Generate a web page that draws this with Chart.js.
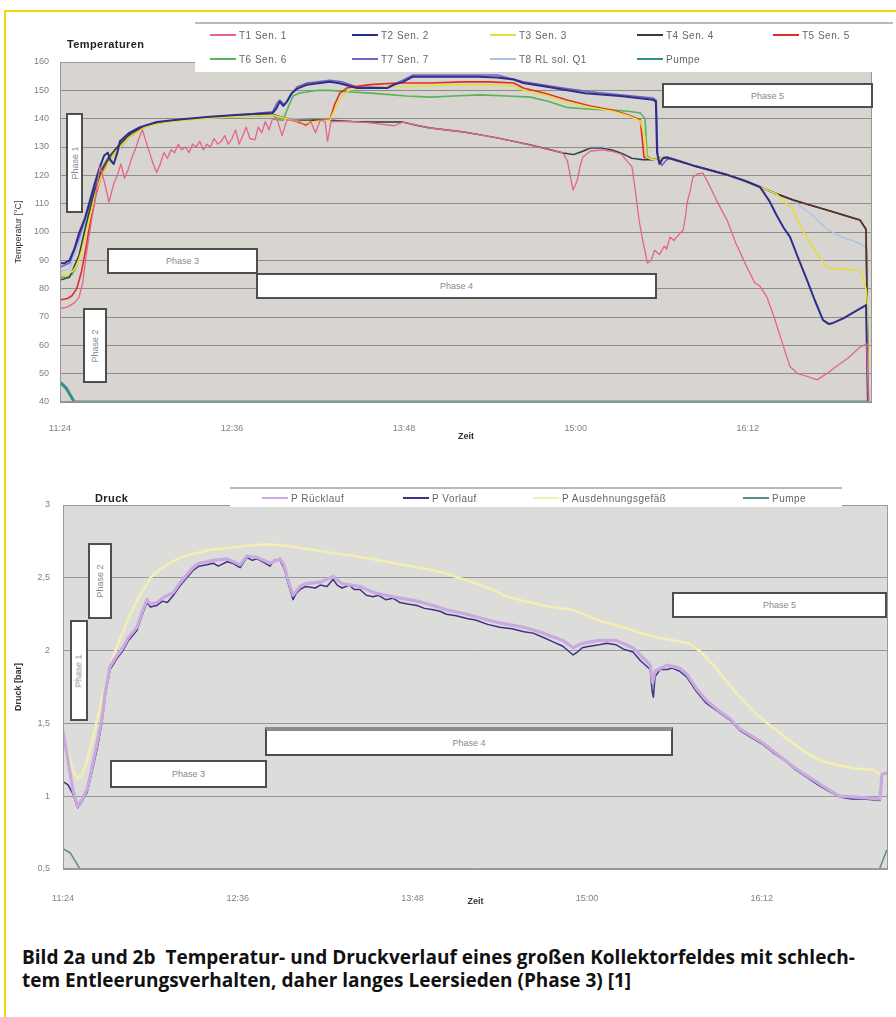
<!DOCTYPE html>
<html lang="de">
<head>
<meta charset="utf-8">
<title>Temperatur- und Druckverlauf</title>
<script src="https://cdn.jsdelivr.net/npm/chart.js@4.4.1/dist/chart.umd.min.js"></script>
<style>
    html, body { margin: 0; padding: 0; background: #fff; }
    body { width: 896px; height: 1017px; position: relative; overflow: hidden; font-family: "Liberation Sans", Arial, sans-serif; }
    canvas { position: absolute; left: 0; }
    #temp-chart { top: 0; }
    #druck-chart { top: 460px; }
    .frame-top { position: absolute; left: 4px; top: 10px; width: 892px; height: 2px; background: #f3d700; }
    .frame-left { position: absolute; left: 4px; top: 10px; width: 2px; height: 1007px; background: #f3d700; }
    .chart-title { position: absolute; font-weight: bold; font-size: 11px; color: #222; letter-spacing: 0.4px; }
    .legend { position: absolute; background: #fff; border-top: 2px solid #b8b8b8; box-sizing: border-box; }
    .legend-item { position: absolute; height: 12px; margin-top: -6px; display: flex; align-items: center; font-size: 10px; color: #666; white-space: nowrap; letter-spacing: 0.5px; }
    .legend-item i { display: inline-block; width: 26px; margin-right: 3px; }
    .phase { position: absolute; background: #fff; border: 2px solid #4e4e4e; box-sizing: border-box; display: flex; align-items: center; justify-content: center; font-size: 9px; color: #8a8a8a; }
    .phase span { white-space: nowrap; }
    .phase.vertical span { transform: rotate(-90deg); }
    .caption { position: absolute; left: 22px; top: 946px; line-height: 23px; font-size: 15px; font-weight: bold; color: #111; font-family: "Open Sans", sans-serif; }
    .caption div { white-space: nowrap; }
    .caption span { display: inline-block; }
</style>
</head>
<body>
<div class="frame-top"></div>
<div class="frame-left"></div>

<canvas id="temp-chart" width="896" height="445"></canvas>
<canvas id="druck-chart" width="896" height="450"></canvas>

<div class="chart-title" style="left:67px; top:38px;">Temperaturen</div>
<div class="chart-title" style="left:95px; top:492px;">Druck</div>

<div class="legend" id="temp-legend" style="left:195px; top:22px; width:698px; height:50px;"></div>
<div class="legend" id="druck-legend" style="left:230px; top:487px; width:612px; height:20px;"></div>

<div class="phase vertical" style="left:66px; top:113px; width:17px; height:100px;"><span>Phase 1</span></div>
<div class="phase vertical" style="left:83px; top:308px; width:24px; height:75px;"><span>Phase 2</span></div>
<div class="phase" style="left:107px; top:248px; width:151px; height:26px;"><span>Phase 3</span></div>
<div class="phase" style="left:256px; top:273px; width:401px; height:26px;"><span>Phase 4</span></div>
<div class="phase" style="left:662px; top:83px; width:211px; height:25px;"><span>Phase 5</span></div>

<div class="phase vertical" style="left:88px; top:543px; width:24px; height:76px;"><span>Phase 2</span></div>
<div class="phase vertical" style="left:70px; top:620px; width:18px; height:101px;"><span>Phase 1</span></div>
<div class="phase" style="left:110px; top:760px; width:157px; height:28px;"><span>Phase 3</span></div>
<div class="phase" style="left:265px; top:727px; width:408px; height:29px; border-top-width:4px; border-top-color:#8c8c8c;"><span>Phase 4</span></div>
<div class="phase" style="left:672px; top:592px; width:215px; height:26px;"><span>Phase 5</span></div>

<div class="caption">
    <div><span id="cap1">Bild 2a und 2b&nbsp; Temperatur- und Druckverlauf eines großen Kollektorfeldes mit schlech-</span></div>
    <div><span>tem Entleerungsverhalten, daher langes Leersieden (Phase 3) [1]</span></div>
</div>

<script>
// time axis: minutes after 11:24
const timeTicks = [0, 72, 144, 216, 288];
const timeLabels = ["11:24", "12:36", "13:48", "15:00", "16:12"];
const tempTickLabels = ["40", "50", "60", "70", "80", "90", "100", "110", "120", "130", "140", "150", "160"];
const druckTickLabels = ["0,5", "1", "1,5", "2", "2,5", "3"];

const tempLabels = ["T1 Sen. 1", "T2 Sen. 2", "T3 Sen. 3", "T4 Sen. 4", "T5 Sen. 5",
    "T6 Sen. 6", "T7 Sen. 7", "T8 RL sol. Q1", "Pumpe"];
const druckLabels = ["P Rücklauf", "P Vorlauf", "P Ausdehnungsgefäß", "Pumpe"];

// [minute, °C]
const t1 = [[0,73],[3,73.5],[6,75],[8,77],[9.5,82],[11,92],[13,103],[15,113],[16.7,123],[18.5,118],[20.5,110.6],
    [22.5,117],[24,120],[25.5,124],[27,119],[28.5,122],[30,126],[31.5,129],[33,133],[34.5,136],[36,132],[37.5,128],
    [39,124],[40.5,121],[42,124],[43.5,128],[45,126],[46.5,129],[48,128],[49.5,131],[51,129],[52.5,130],[54,128],
    [55.5,131],[57,130],[58.5,132],[60,129],[61.5,131],[63,130],[64.5,133],[66,131],[67.5,132],[69,134],[70.5,131],
    [72,133],[73.5,136],[75,131],[76.5,134],[78,137],[79.5,133],[81.6,132.5],[83,137],[84.5,135],[86,139],[87.5,136],
    [89,140],[91,139.5],[93,134],[95,139.5],[99,139.5],[103,137.5],[105,139],[107,135],[109,139.5],[111,139],[112,132],
    [113.5,139],[122,139],[130,138.5],[140,137.5],[143.6,138.8],[155,136.7],[169,135.3],[183,133.2],[197,130.7],
    [205,129],[210.6,127.9],[212.5,125],[214.8,114.8],[216.5,118],[218,124],[219,126.5],[222,128.5],[227,129],
    [231,128.5],[235,127.5],[239.5,123],[241,114],[242.5,104],[244,97],[246,89],[247.5,90],[249,93.6],[251,92],
    [253,95],[254,94],[255.4,98.2],[257,97],[259,99],[260.9,100.7],[262,106],[262.5,110],[264,115],[265,119.4],
    [267,120.5],[269.2,120.8],[272.2,116],[275,111],[279.3,104.2],[283,96],[287.6,87.6],[291,82],[293,81],[296,77],
    [299,70],[302,62],[305.7,52.4],[309,50],[313,49],[317,47.8],[321,50],[325,52.5],[330,55.5],[335,59.4],
    [337.8,60.5],[338.5,40]];
const t2 = [[0,89],[2,89],[4,90],[6,94],[8,99.6],[10.5,105],[12.6,111.3],[14.5,117],[16.7,123],[18.5,127],[20,128],
    [21,125.5],[22.5,124],[24,128],[25.1,132],[29,135],[33.5,137],[40.6,138.8],[50,139.7],[61.5,140.6],[75,141.4],
    [89,142],[90.5,143.5],[92,146],[93.5,144.5],[95,146],[97,149],[99.2,150.5],[103.4,152],[108,152.5],[113,153],
    [117,152.5],[124.4,150.8],[130,150.8],[137,150.8],[140,152],[143.6,153],[147.8,154.8],[160,154.8],[175,154.8],
    [183,154.5],[190,153.8],[194,152.6],[202,151.5],[210.6,150.3],[220,149],[234.5,148],[248.3,146.7],[249.5,146],
    [250,128],[251,124],[252.5,126],[254.2,126.3],[258,125.3],[265,123.5],[272,121.9],[280,120],[287,118],
    [293.1,115.9],[297,111],[300,106],[303,101.5],[305.7,98.2],[309,91],[312.8,83],[316,76],[319.5,68.9],[322,67.5],
    [323.7,67.9],[328,69.5],[333,72],[337.5,74.2],[338.3,40]];
const t3 = [[0,85],[3,85],[5,86],[7,88],[9,93],[11,100],[13,107],[15,114],[17,119],[20,124],[23,128],[29,133.5],
    [36,137.3],[45,138.8],[61.5,140.2],[75,140.8],[89,141.3],[95,140],[103,138.5],[110,139.3],[113,139.5],[115.5,144],
    [118,148],[121,150],[126,150.8],[135,151.2],[150,151.5],[165,152],[180,152],[190,151.5],[194,150],[203,148.4],
    [212,146],[222,144],[231.5,142.6],[238,141],[243,139.2],[245,133],[245.5,126.5],[248,125.5],[254,126.5],
    [265,123.5],[272,121.9],[280,120],[293,115.9],[300,113.5],[306.9,107.8],[310,102],[315.3,94.7],[318,91],
    [321.1,87.6],[325,87],[330,86.8],[335,86.6],[337.5,80],[338,76],[338.5,40]];
const t4 = [[0,83],[4,84],[8,92],[11,103],[14,113],[17,121],[21,127],[25,131],[30,135],[35,137],[41,138.6],
    [50,139.5],[61.5,140.4],[75,141],[89,141.5],[95,140],[99,139.5],[106,139.5],[113,139.5],[122,139],[130,138.8],
    [143.6,138.8],[150,137.5],[155,136.7],[162,136],[169,135.3],[176,134.3],[183,133.2],[190,132],[197,130.7],
    [204,129.3],[210.6,127.9],[215,127.3],[219,128.5],[222,129.6],[227,129.6],[231,129],[235,127.8],[239.5,126],
    [244,125.5],[248,125.5],[254,126.5],[258,125.3],[265,123.5],[272,121.9],[280,120],[287,118],[293,115.9],
    [300,113.5],[307,111.3],[314,109.5],[321,107.8],[328,106],[335,104.2],[337.5,101],[338.5,40]];
const t5 = [[0,76],[3,76.5],[5,77.5],[7,80],[9,86],[11,95],[13,105],[15,113],[17,119],[19.5,123.5],[23,128],
    [29,133.5],[36,137.5],[45,139],[61.5,140.4],[75,141],[89,141.5],[95,140],[99,139],[103,137.8],[106,139.5],
    [110,139.5],[113,139.5],[115,145],[117.2,149],[120,150.8],[125,151.5],[130,152],[141,152.6],[155,152.6],[169,153],
    [180,153],[190,152.6],[194,150.8],[203,149],[212.3,146.6],[222,144.5],[231.5,143],[238,141.3],[243,139.5],
    [244,131],[244.5,126.5],[248,125.5],[254,126.5],[258,125.3],[265,123.5],[272,121.9],[280,120],[287,118],
    [293,115.9],[300,113.5],[307,111.3],[314,109.5],[321,107.8],[328,106],[335,104.2],[337.5,101],[338.5,40]];
const t6 = [[0,84],[3,84],[5,85],[7,88],[9,94],[11,102],[13,109],[15,115],[17,120],[20,125],[23,128.5],[29,133.8],
    [36,137.3],[45,139],[61.5,140.3],[75,140.8],[89,141.2],[92,139.5],[93.4,139.5],[95.5,144],[97.6,148],[100,149],
    [103.4,149.4],[108,150],[113,150],[120,149.5],[130,149],[145,148],[155,147.6],[165,148],[176,148.4],[187,148],
    [197,147.6],[205,146],[212,144],[222,143.3],[231.5,143],[238,142.6],[243,142],[245,140],[245.8,127],[248,125.5],
    [254,126.5],[265,123.5],[272,121.9],[280,120],[287,118],[293,115.9],[300,113.5],[307,111.3],[314,109.5],
    [321,107.8],[328,106],[335,104.2],[337.5,101],[338.5,40]];
const t7 = [[0,87.5],[4,89],[8,98],[12.6,110],[16.7,121.5],[20,126],[25,131],[29,134.5],[33.5,136.8],[40.6,138.6],
    [61.5,140.5],[75,141.3],[89,142.4],[90.8,145.5],[92.1,146.6],[94,144.8],[96,147.5],[99.2,151.2],[103.4,152.6],
    [113,153.6],[118,153],[124.4,151.2],[137,151.2],[143.6,153.6],[147.8,155.4],[165,155.4],[183,155.4],[194,153],
    [210.6,150.8],[222,149.5],[234.5,148.4],[248.3,147.3],[249.7,146.5],[250.3,127],[252,123.5],[254,125.5],
    [256,126],[260,125],[265,123.5],[272,121.9],[280,120],[293,115.9],[300,113.5],[307,111.3],[314,109.5],
    [321,107.8],[328,106],[335,104.2],[337.5,100.7],[338.5,40]];
const t8 = [[0,86],[4,87],[8,96],[12,108],[16,119],[20,126],[25,131],[33,136.5],[41,138.5],[61.5,140.3],[89,141.3],
    [95,140.2],[106,139.6],[122,139.1],[143.6,138.9],[155,136.8],[169,135.4],[183,133.3],[197,130.8],[210.6,128],
    [215,127.5],[219,128.8],[222,130],[227,130],[231,129.2],[235,127.9],[239.5,126.2],[248,125.6],[254,126.6],
    [265,123.6],[272,122],[280,120.1],[293,116],[300,113.6],[307,111],[315,106],[321,101],[328,98],[335,96],
    [338,94],[338.5,40]];
const pumpeT = [[0,47],[2.5,45],[6,40],[338,40]];

// [minute, bar]
const pRuecklauf = [[0,1.45],[2,1.25],[4,1.05],[6,0.93],[8,0.98],[10,1.05],[12,1.2],[14,1.36],[16,1.53],[17.5,1.73],
    [19.4,1.89],[22,1.96],[24.7,2.02],[27,2.09],[30.5,2.16],[32.5,2.26],[34.6,2.35],[36,2.32],[38.7,2.33],[41,2.36],
    [45.5,2.40],[48,2.46],[51,2.52],[53.6,2.57],[56,2.6],[59.3,2.61],[62,2.62],[67.6,2.63],[73,2.59],[75.8,2.65],
    [80,2.64],[85.3,2.6],[89.4,2.63],[91,2.59],[92.5,2.5],[94.8,2.38],[97.7,2.44],[100,2.46],[106,2.47],[111.3,2.51],
    [115,2.46],[122.4,2.44],[127.8,2.4],[133,2.38],[138.9,2.36],[145.9,2.34],[152.5,2.31],[158,2.28],[166.5,2.25],
    [175,2.21],[180,2.19],[190,2.16],[198,2.12],[206,2.07],[210.2,2.02],[214,2.05],[221,2.07],[228,2.07],
    [234.9,2.02],[242,1.9],[243,1.78],[244,1.86],[249,1.9],[254,1.88],[257,1.84],[261,1.74],[265,1.66],[270,1.59],
    [275,1.53],[279,1.46],[288,1.37],[292.6,1.31],[302,1.19],[306.6,1.14],[315,1.05],[320,1.0],[330,0.99],
    [336.7,0.98],[337.5,1.15],[340,1.16]];
const pVorlauf = [[0,1.10],[2,1.08],[4,1.02],[6,0.92],[8,0.97],[10,1.03],[12,1.17],[14,1.32],[16,1.50],[17.5,1.70],
    [19.4,1.87],[22,1.94],[24.7,2.0],[27,2.07],[30.5,2.14],[32.5,2.24],[34.6,2.33],[36,2.30],[38.7,2.31],[41,2.34],
    [43,2.33],[45.5,2.38],[48,2.44],[51,2.50],[53.6,2.55],[56,2.58],[59.3,2.59],[62,2.60],[64,2.58],[67.6,2.61],
    [70,2.60],[73,2.57],[75.8,2.64],[78,2.62],[80,2.63],[82.4,2.61],[85.3,2.58],[87,2.62],[89.4,2.62],[91,2.57],
    [92.5,2.48],[94.8,2.35],[96,2.39],[97.7,2.42],[100,2.44],[104,2.43],[106,2.45],[108.8,2.44],[111.3,2.49],
    [113,2.45],[115,2.43],[118,2.45],[120,2.42],[122.4,2.42],[125,2.38],[127.8,2.37],[130,2.38],[133,2.35],
    [136,2.36],[138.9,2.33],[142,2.32],[145.9,2.31],[149,2.29],[152.5,2.28],[155.4,2.27],[158,2.25],[162,2.24],
    [166.5,2.22],[170,2.21],[175,2.18],[180,2.16],[185,2.15],[190,2.13],[193.7,2.12],[198,2.09],[202,2.06],
    [206,2.03],[210.2,1.97],[212,1.99],[214,2.02],[217,2.03],[221,2.04],[224,2.05],[228,2.04],[231,2.01],
    [234.9,1.99],[238,1.93],[242,1.87],[242.8,1.72],[243.3,1.68],[244,1.82],[246,1.87],[249,1.87],[251,1.88],
    [254,1.86],[257,1.82],[261,1.72],[265,1.64],[270,1.58],[275,1.52],[279,1.45],[283,1.41],[288,1.36],
    [292.6,1.30],[297,1.25],[302,1.18],[306.6,1.13],[311,1.08],[315,1.04],[320,0.995],[325,0.98],[330,0.98],
    [336.7,0.97],[337.5,1.15],[340,1.15]];
const pAusdehnung = [[0,1.45],[2,1.3],[4,1.18],[6,1.12],[8,1.15],[10,1.25],[12,1.38],[14,1.52],[16,1.66],[18,1.8],
    [20,1.92],[22,2.02],[25,2.14],[28,2.26],[31,2.36],[34,2.44],[36,2.5],[40,2.56],[45,2.61],[50,2.65],[55,2.67],
    [60,2.69],[65,2.7],[70,2.71],[76,2.72],[84,2.73],[92,2.72],[100,2.7],[111,2.67],[120,2.65],[130,2.62],
    [140,2.59],[150,2.56],[158,2.53],[165,2.49],[172,2.45],[178,2.41],[183,2.37],[190,2.34],[198,2.31],[205,2.29],
    [210,2.28],[216,2.24],[222,2.2],[231,2.16],[238,2.12],[245,2.09],[252,2.07],[258,2.05],[263,1.99],[268,1.9],
    [272,1.82],[279,1.68],[286,1.56],[292.6,1.47],[299.6,1.38],[306,1.3],[313,1.24],[320,1.21],[327,1.19],
    [334,1.18],[337,1.15],[340,1.14]];
const pumpeP = [[0,0.64],[3,0.61],[7,0.5],[336.5,0.5],[339.5,0.63]];

const tempSeries = [t1, t2, t3, t4, t5, t6, t7, t8, pumpeT];
const tempColors = ["#e5648c", "#2c2f8a", "#e4de3c", "#3a3a3a", "#e02b2b", "#58b35a", "#7462c2", "#a9c3e6", "#2f8f8f"];
const tempWidths = [1.3, 2, 1.6, 1.4, 1.6, 1.6, 1.5, 1.3, 3];

const druckSeries = [pRuecklauf, pVorlauf, pAusdehnung, pumpeP];
const druckColors = ["#c9a9de", "#3f3186", "#f2eeb4", "#5e8c8c"];
const druckWidths = [3.2, 1.5, 2.6, 1.5];

Chart.defaults.font.family = '"Liberation Sans", Arial, sans-serif';

const plotBackground = {
    id: "plotBackground",
    beforeDraw(chart, args, opts) {
        const {ctx, chartArea: a} = chart;
        ctx.save();
        ctx.fillStyle = opts.color;
        ctx.fillRect(a.left, a.top, a.width, a.height);
        ctx.restore();
    },
    afterDraw(chart, args, opts) {
        const {ctx, chartArea: a} = chart;
        ctx.save();
        ctx.strokeStyle = opts.frame;
        ctx.lineWidth = 1;
        ctx.strokeRect(a.left + 0.5, a.top + 0.5, a.width - 1, a.height - 1);
        ctx.restore();
    }
};

function buildDatasets(series, labels, colors, widths) {
    return series.map((s, i) => ({
        label: labels[i],
        data: s.map(p => ({x: p[0], y: p[1]})),
        borderColor: colors[i],
        borderWidth: widths[i],
        pointRadius: 0,
        tension: 0,
        fill: false,
        borderJoinStyle: "round"
    }));
}

function createLineChart(canvasId, datasets, cfg) {
    const canvas = document.getElementById(canvasId);
    return new Chart(canvas.getContext("2d"), {
        type: "line",
        data: {datasets: datasets},
        options: {
            responsive: false,
            animation: false,
            events: [],
            layout: {padding: cfg.padding},
            plugins: {
                legend: {display: false},
                tooltip: {enabled: false},
                plotBackground: {color: cfg.background, frame: cfg.frame}
            },
            scales: {
                x: {
                    type: "linear",
                    min: 0,
                    max: 340,
                    grid: {display: false},
                    border: {display: false},
                    afterBuildTicks: s => { s.ticks = timeTicks.map(v => ({value: v})); },
                    afterFit: s => { s.height = cfg.xHeight; },
                    ticks: {
                        callback: (v, i) => timeLabels[i],
                        padding: cfg.xPad,
                        color: "#808080",
                        font: {size: 9},
                        maxRotation: 0,
                        autoSkip: false
                    },
                    title: {
                        display: true,
                        text: "Zeit",
                        color: "#333",
                        font: {size: 9, weight: "bold"},
                        padding: {top: 0, bottom: 3}
                    }
                },
                y: {
                    min: cfg.yMin,
                    max: cfg.yMax,
                    afterFit: s => { s.width = cfg.yWidth; },
                    ticks: {
                        stepSize: cfg.yStep,
                        callback: (v, i) => cfg.yLabels[i],
                        padding: cfg.yPad,
                        color: "#808080",
                        font: {size: 9}
                    },
                    grid: {color: cfg.gridColor, drawTicks: false},
                    border: {display: false},
                    title: {
                        display: true,
                        text: cfg.yTitle,
                        color: "#333",
                        font: {size: 9, weight: cfg.yTitleWeight},
                        padding: {top: 13, bottom: 0}
                    }
                }
            }
        },
        plugins: [plotBackground]
    });
}

const tempChart = createLineChart("temp-chart",
    buildDatasets(tempSeries, tempLabels, tempColors, tempWidths), {
        padding: {left: 0, right: 24, top: 62, bottom: 0},
        xHeight: 43, xPad: 13, yWidth: 60, yPad: 11,
        yMin: 40, yMax: 160, yStep: 10, yLabels: tempTickLabels,
        yTitle: "Temperatur [°C]", yTitleWeight: "normal",
        background: "#d8d4d0", gridColor: "#8e8b88", frame: "#9a9896"
    });

const druckChart = createLineChart("druck-chart",
    buildDatasets(druckSeries, druckLabels, druckColors, druckWidths), {
        padding: {left: 0, right: 8, top: 45, bottom: 0},
        xHeight: 41, xPad: 16, yWidth: 63, yPad: 13,
        yMin: 0.5, yMax: 3, yStep: 0.5, yLabels: druckTickLabels,
        yTitle: "Druck [bar]", yTitleWeight: "bold",
        background: "#dcdcdb", gridColor: "#979797", frame: "#9a9a9a"
    });

// HTML legends built from the chart datasets
function buildLegend(boxId, chart, columns, rows) {
    const box = document.getElementById(boxId);
    chart.data.datasets.forEach((ds, i) => {
        const item = document.createElement("div");
        item.className = "legend-item";
        item.style.left = columns[i] + "px";
        item.style.top = rows[i] + "px";
        const swatch = document.createElement("i");
        swatch.style.borderTop = "2px solid " + ds.borderColor;
        item.appendChild(swatch);
        item.appendChild(document.createTextNode(ds.label));
        box.appendChild(item);
    });
}
buildLegend("temp-legend", tempChart, [15, 157, 295, 442, 578, 15, 157, 295, 442], [11, 11, 11, 11, 11, 35, 35, 35, 35]);
buildLegend("druck-legend", druckChart, [32, 173, 303, 513], [9, 9, 9, 9]);

// fit caption to the printed line width
const cap1 = document.getElementById("cap1");
const captionSize = 15 * 833 / cap1.getBoundingClientRect().width;
document.querySelector(".caption").style.fontSize = captionSize + "px";
</script>
</body>
</html>
